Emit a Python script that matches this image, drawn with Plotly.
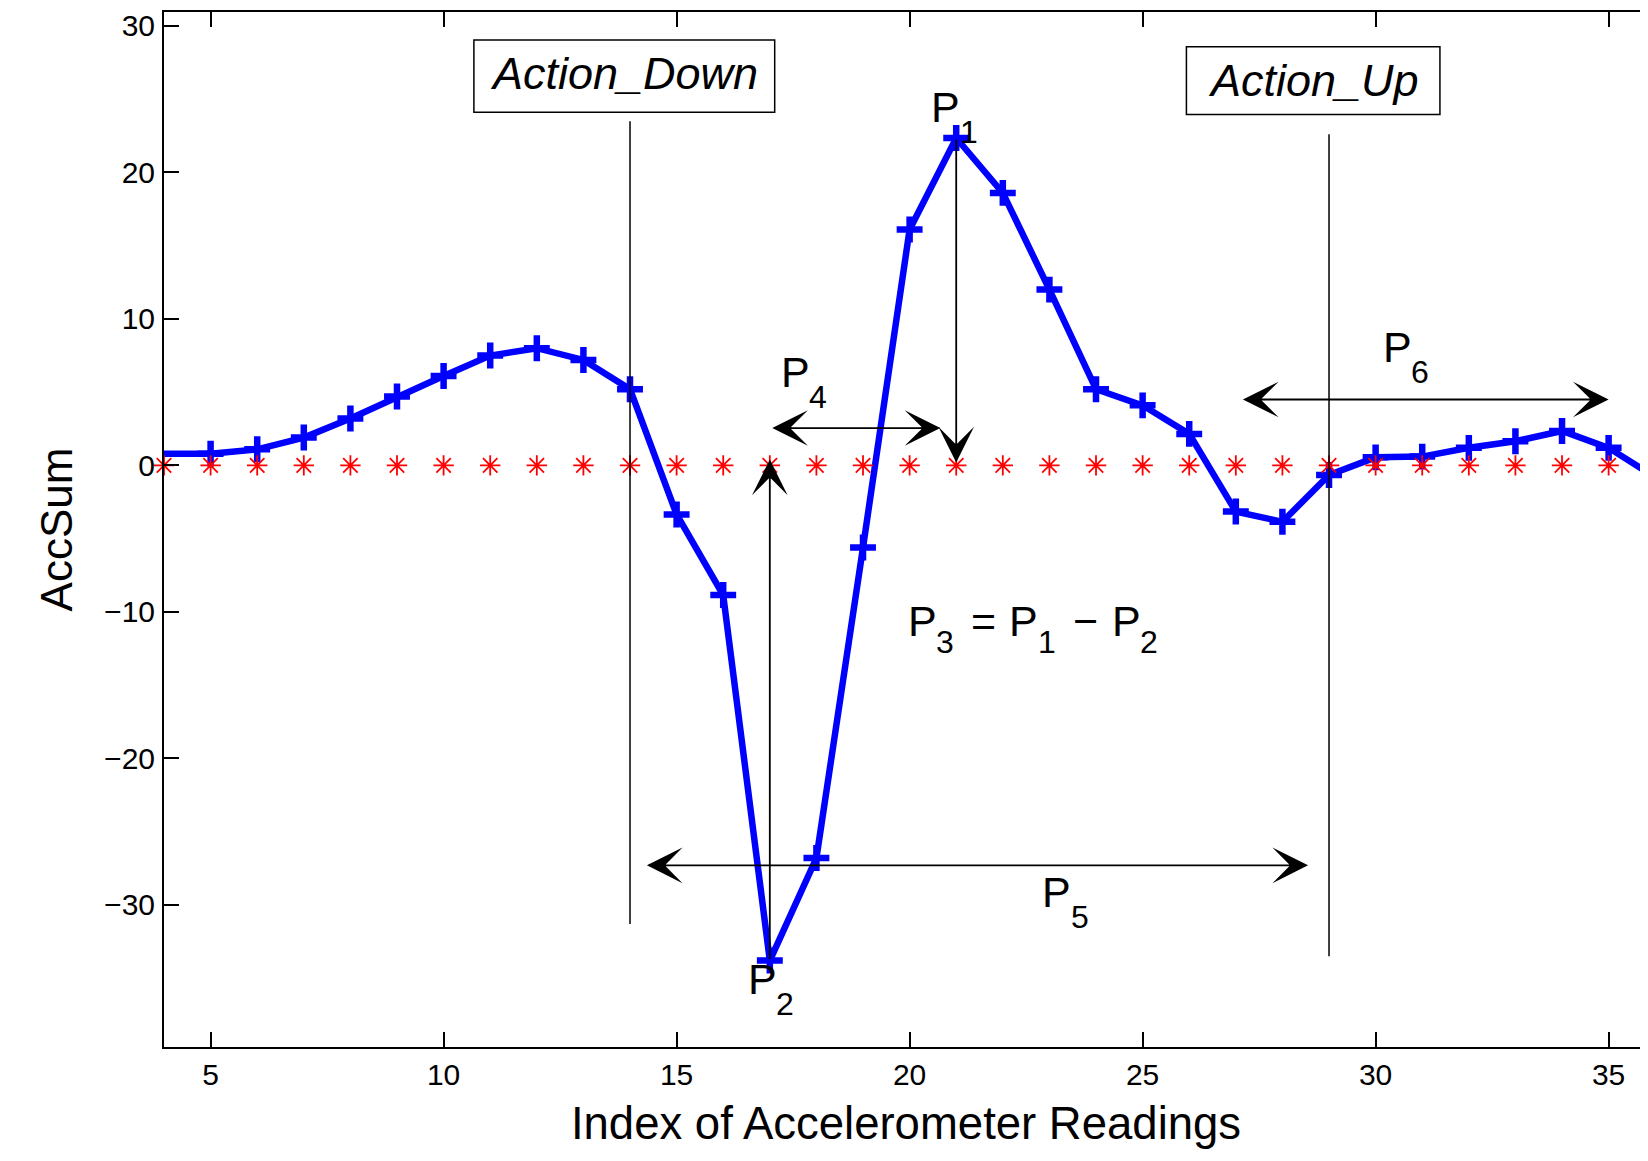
import plotly.graph_objects as go

# ---------------- data ----------------
idx = [4, 5, 6, 7, 8, 9, 10, 11, 12, 13, 14, 15, 16, 17, 18, 19, 20,
       21, 22, 23, 24, 25, 26, 27, 28, 29, 30, 31, 32, 33, 34, 35, 36]
acc_sum = [0.8, 0.8, 1.1, 1.9, 3.2, 4.7, 6.1, 7.5, 8.0, 7.2, 5.2, -3.35, -8.85,
           -33.8, -26.8, -5.6, 16.1, 22.35, 18.6, 12.0, 5.2, 4.1, 2.15, -3.15,
           -3.85, -0.65, 0.55, 0.6, 1.2, 1.65, 2.35, 1.2, -0.8]
zero_ref = [0, 0, 0, 0, 0, 0, 0, 0, 0, 0, 0, 0, 0, 0, 0, 0, 0,
            0, 0, 0, 0, 0, 0, 0, 0, 0, 0, 0, 0, 0, 0, 0, 0]

x_ticks = [5, 10, 15, 20, 25, 30, 35]
y_ticks = [-30, -20, -10, 0, 10, 20, 30]

action_x = [14, 29]
action_labels = ["Action_Down", "Action_Up"]

p1_x, p2_x = 21, 17

FONT = "Liberation Sans, Arial, Helvetica, sans-serif"
X_RANGE = [4, 35.845]
Y_RANGE = [-39.7, 30.95]

fig = go.Figure()

# blue curve (line), markers from the 2nd sample on
fig.add_trace(go.Scatter(x=idx, y=acc_sum, mode="lines",
                         line=dict(color="#0000FF", width=6.5),
                         showlegend=False, hoverinfo="skip"))
fig.add_trace(go.Scatter(x=idx[1:], y=acc_sum[1:], mode="markers",
                         marker=dict(symbol="cross-thin", size=18.5, color="#0000FF",
                                     line=dict(color="#0000FF", width=6.5)),
                         showlegend=False, hoverinfo="skip"))
# red reference stars
fig.add_trace(go.Scatter(x=idx, y=zero_ref, mode="markers", cliponaxis=False,
                         marker=dict(symbol="asterisk-open", size=17, color="#FF0000",
                                     line=dict(color="#FF0000", width=1.8)),
                         showlegend=False, hoverinfo="skip"))
# dummy trace for right-side ticks
fig.add_trace(go.Scatter(x=[], y=[], yaxis="y2", showlegend=False))

shapes = []
# action vertical lines
shapes.append(dict(type="line", xref="x", yref="y", x0=action_x[0], x1=action_x[0],
                   y0=-31.3, y1=23.5, line=dict(color="black", width=1.5)))
shapes.append(dict(type="line", xref="x", yref="y", x0=action_x[1], x1=action_x[1],
                   y0=-33.5, y1=22.6, line=dict(color="black", width=1.5)))
# label boxes
shapes.append(dict(type="rect", xref="x", yref="y", x0=10.65, x1=17.105,
                   y0=24.1, y1=29.04, line=dict(color="black", width=1.5)))
shapes.append(dict(type="rect", xref="x", yref="y", x0=25.94, x1=31.38,
                   y0=23.95, y1=28.58, line=dict(color="black", width=1.5)))

ann = []


def arrow(x0, y0, x1, y1, both=False):
    d = dict(x=x1, y=y1, ax=x0, ay=y0, xref="x", yref="y", axref="x", ayref="y",
             text="", showarrow=True, arrowhead=3, arrowsize=3.3, arrowwidth=1.8,
             arrowcolor="black", standoff=0, arrowside="end")
    if both:
        d.update(arrowside="end+start", startarrowhead=3, startarrowsize=3.3,
                 startstandoff=0)
    return d


p1_val = acc_sum[idx.index(p1_x)]
p2_val = acc_sum[idx.index(p2_x)]
ann.append(arrow(17.02, 2.55, 20.66, 2.55, both=True))          # P4
ann.append(arrow(p1_x, p1_val, p1_x, 0.2))                       # P1 down
ann.append(arrow(p2_x, p2_val, p2_x, 0.4))                       # P2 up
ann.append(arrow(14.33, -27.3, 28.55, -27.3, both=True))        # P5
ann.append(arrow(27.12, 4.5, 35.0, 4.5, both=True))             # P6


def txt(x, y, s, size, xshift=0, yshift=0, anchor="left"):
    return dict(x=x, y=y, xref="x", yref="y", text=s, showarrow=False,
                xanchor=anchor, yanchor="middle", xshift=xshift, yshift=yshift,
                font=dict(family=FONT, size=size, color="black"))


MAIN, SUB = 43, 32
SUB_DX, SUB_DY = 28.5, -25


def plabel(x, y, num):
    ann.append(txt(x, y, "P", MAIN))
    ann.append(txt(x, y, num, SUB, xshift=SUB_DX, yshift=SUB_DY))


plabel(20.42, 24.47, "1")
plabel(17.19, 6.41, "4")
plabel(16.48, -35.04, "2")
plabel(22.80, -29.14, "5")
plabel(30.11, 8.11, "6")

# P3 = P1 - P2
ann.append(txt(19.92, -10.63, "P", MAIN))
ann.append(txt(19.92, -10.63, "3", SUB, xshift=SUB_DX, yshift=-21))
ann.append(txt(21.27, -10.63, "=", MAIN))
ann.append(txt(22.10, -10.63, "P", MAIN))
ann.append(txt(22.10, -10.63, "1", SUB, xshift=SUB_DX, yshift=-21))
ann.append(txt(23.46, -10.63, "\u2212", MAIN))
ann.append(txt(24.29, -10.63, "P", MAIN))
ann.append(txt(24.29, -10.63, "2", SUB, xshift=SUB_DX, yshift=-21))

# boxed action labels
ann.append(txt(13.88, 26.75, "<i>" + action_labels[0] + "</i>", 45, anchor="center"))
ann.append(txt(28.66, 26.3, "<i>" + action_labels[1] + "</i>", 45, anchor="center"))

# the page body adds an 8px margin; size the figure so the plot area lands
# where the reference has it
fig.update_layout(
    width=1640, height=1153,
    margin=dict(l=156, r=0, t=4, b=114, autoexpand=False),
    paper_bgcolor="white", plot_bgcolor="white",
    font=dict(family=FONT, size=30, color="black"),
    shapes=shapes, annotations=ann,
    xaxis=dict(range=X_RANGE, tickvals=x_ticks, ticks="inside", ticklen=15,
               tickwidth=1.5, tickcolor="black", showline=True, linewidth=2,
               linecolor="black", mirror="ticks", showgrid=False, zeroline=False,
               automargin=False,
               tickfont=dict(family=FONT, size=30), ticklabelstandoff=0,
               title=dict(text="Index of Accelerometer Readings",
                          font=dict(family=FONT, size=45.5), standoff=17)),
    yaxis=dict(range=Y_RANGE, tickvals=y_ticks, ticks="inside", ticklen=15,
               tickwidth=1.5, tickcolor="black", showline=True, linewidth=2,
               linecolor="black", mirror=False, showgrid=False, zeroline=False,
               automargin=False,
               tickfont=dict(family=FONT, size=30), ticklabelstandoff=1,
               title=dict(text="AccSum", font=dict(family=FONT, size=44),
                          standoff=18)),
    yaxis2=dict(range=Y_RANGE, tickvals=y_ticks, ticks="inside", ticklen=7,
                tickwidth=1.5, tickcolor="black", overlaying="y", side="right",
                showline=False, showgrid=False, zeroline=False, automargin=False,
                showticklabels=False),
)

fig.write_html("out.html")
